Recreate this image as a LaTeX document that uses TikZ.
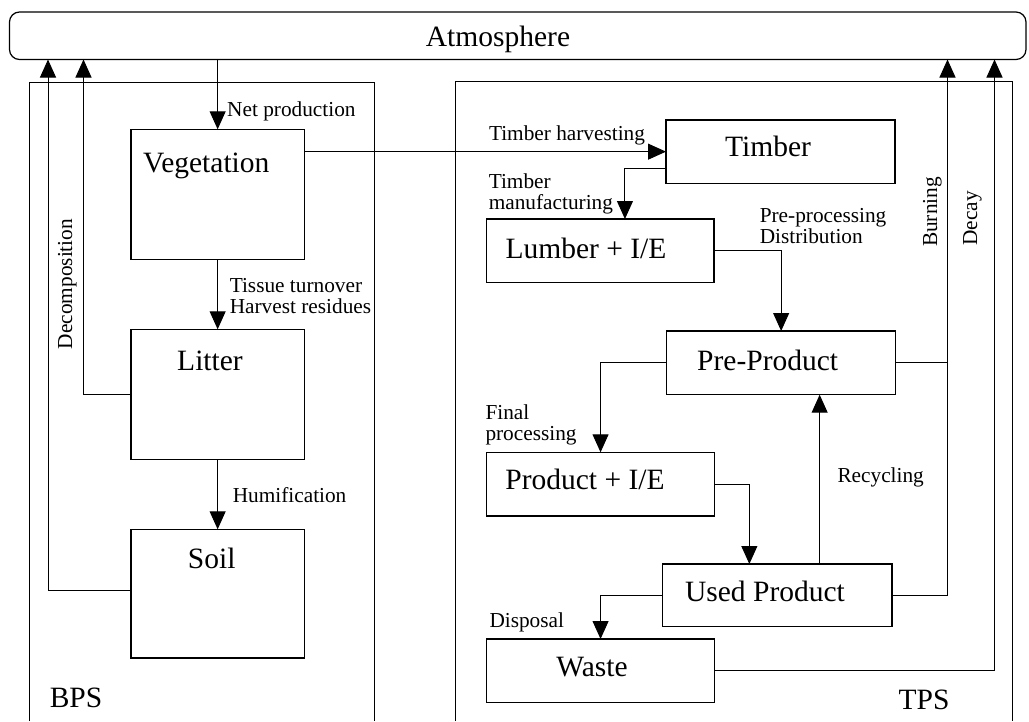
\documentclass[tikz,border=0pt]{standalone}
\usepackage{fontspec}
\setmainfont{Liberation Serif}
\usetikzlibrary{arrows.meta,calc}
\begin{document}
\begin{tikzpicture}[x=1pt,y=-1pt,
  line width=1pt,
  box/.style={draw, line width=1.2pt, inner sep=0pt, outer sep=0pt, anchor=north west},
  big/.style={font=\fontsize{29.5}{31}\selectfont, inner sep=0pt, text height=19pt, text depth=0pt},
  lab/.style={font=\fontsize{21.3}{20.5}\selectfont, inner sep=0pt, text height=14pt, text depth=0pt, anchor=west},
  labtwo/.style={font=\fontsize{21.3}{20.5}\selectfont, inner sep=0pt, align=left, anchor=north west},
  arr/.style={-{Triangle[length=18pt,width=16pt]}},
]
\useasboundingbox (0,0) rectangle (1029,721);

% regions
\draw (29.3,721) -- (29.3,82) -- (374.3,82) -- (374.3,721);
\draw (455.7,721) -- (455.7,81) -- (1012.5,81) -- (1012.5,721);

% boxes
\node[box, rounded corners=10pt, minimum width=1016.5pt, minimum height=47.5pt] (atm) at (9.5,12) {};
\node[box, minimum width=173.3pt, minimum height=130pt] (veg) at (131,129.3) {};
\node[box, minimum width=173.3pt, minimum height=130pt] (litter) at (131,329.3) {};
\node[box, minimum width=173.3pt, minimum height=128.7pt] (soil) at (131,529.3) {};
\node[box, minimum width=229pt, minimum height=63.3pt] (timber) at (666,120) {};
\node[box, minimum width=227.3pt, minimum height=63.7pt] (lumber) at (486.7,219) {};
\node[box, minimum width=228.9pt, minimum height=63.7pt] (preprod) at (666.7,331) {};
\node[box, minimum width=228.5pt, minimum height=63.7pt] (product) at (486.3,452.3) {};
\node[box, minimum width=229.3pt, minimum height=62.3pt] (used) at (662.6,564) {};
\node[box, minimum width=228.5pt, minimum height=63.7pt] (waste) at (486.3,639) {};

% box texts
\node[big] (atmt) at (498,36.5) {Atmosphere};
\node[big] (vegt) at (206.3,163.3) {Vegetation};
\node[big] (littert) at (210,361) {Litter};
\node[big] (soilt) at (211.7,559.3) {Soil};
\node[big] (timbert) at (768,147) {Timber};
\node[big] (lumbert) at (586,249.3) {Lumber + I/E};
\node[big] (preprodt) at (767.7,361) {Pre-Product};
\node[big] (productt) at (585,480) {Product + I/E};
\node[big] (usedt) at (765,591.7) {Used Product};
\node[big] (wastet) at (592,667) {Waste};
\node[big, anchor=west] (bps) at (49.3,698.3) {BPS};
\node[big] (tps) at (924,700) {TPS};

% risers
\coordinate (c1) at (48,0);
\coordinate (c2) at (83.5,0);
\coordinate (c3) at (947.5,0);
\coordinate (c4) at (994.5,0);

% connectors
\draw[arr] (veg.north |- atm.south) -- (veg.north);
\draw[arr] (veg.south) -- (litter.north);
\draw[arr] (litter.south) -- (soil.north);
\draw[arr] (litter.west) -| (c2 |- atm.south);
\draw[arr] ([yshift=3.6pt]soil.west) -| (c1 |- atm.south);
\draw[arr] (veg.east |- timber.west) -- (timber.west);
\draw[arr] ([yshift=-17.3pt]timber.west) -| ([xshift=24.6pt]lumber.north);
\draw[arr] (lumber.east) -| (preprod.north);
\draw[arr] (preprod.west) -| (product.north);
\draw[arr] (product.east) -| ([xshift=-27.9pt]used.north);
\draw[arr] ([xshift=42.4pt]used.north) coordinate (rc) -- (rc |- preprod.south);
\draw[arr] (used.west) -| (waste.north);
\draw[arr] (used.east) -| (c3 |- atm.south);
\draw (preprod.east) -- (preprod.east -| c3);
\draw[arr] (waste.east) -| (c4 |- atm.south);

% labels
\node[lab] (lnet) at (226.7,109.3) {Net production};
\node[labtwo] (ltissue) at (229.3,278) {Tissue turnover\\Harvest residues};
\node[lab] (lhum) at (232.3,495) {Humification};
\node[lab, anchor=center, rotate=90] (ldec) at (65,284) {Decomposition};
\node[lab] (lharv) at (488.5,133.3) {Timber harvesting};
\node[labtwo] (lmanu) at (488.3,173.7) {Timber\\manufacturing};
\node[labtwo] (lpre) at (759.3,208) {Pre-processing\\Distribution};
\node[labtwo] (lfinal) at (485,404.7) {Final\\processing};
\node[lab] (lrec) at (837,475) {Recycling};
\node[lab] (ldisp) at (489,620.7) {Disposal};
\node[lab, anchor=center, rotate=90] (lburn) at (930,212) {Burning};
\node[lab, anchor=center, rotate=90] (ldecay) at (970,218.5) {Decay};
\end{tikzpicture}
\end{document}
